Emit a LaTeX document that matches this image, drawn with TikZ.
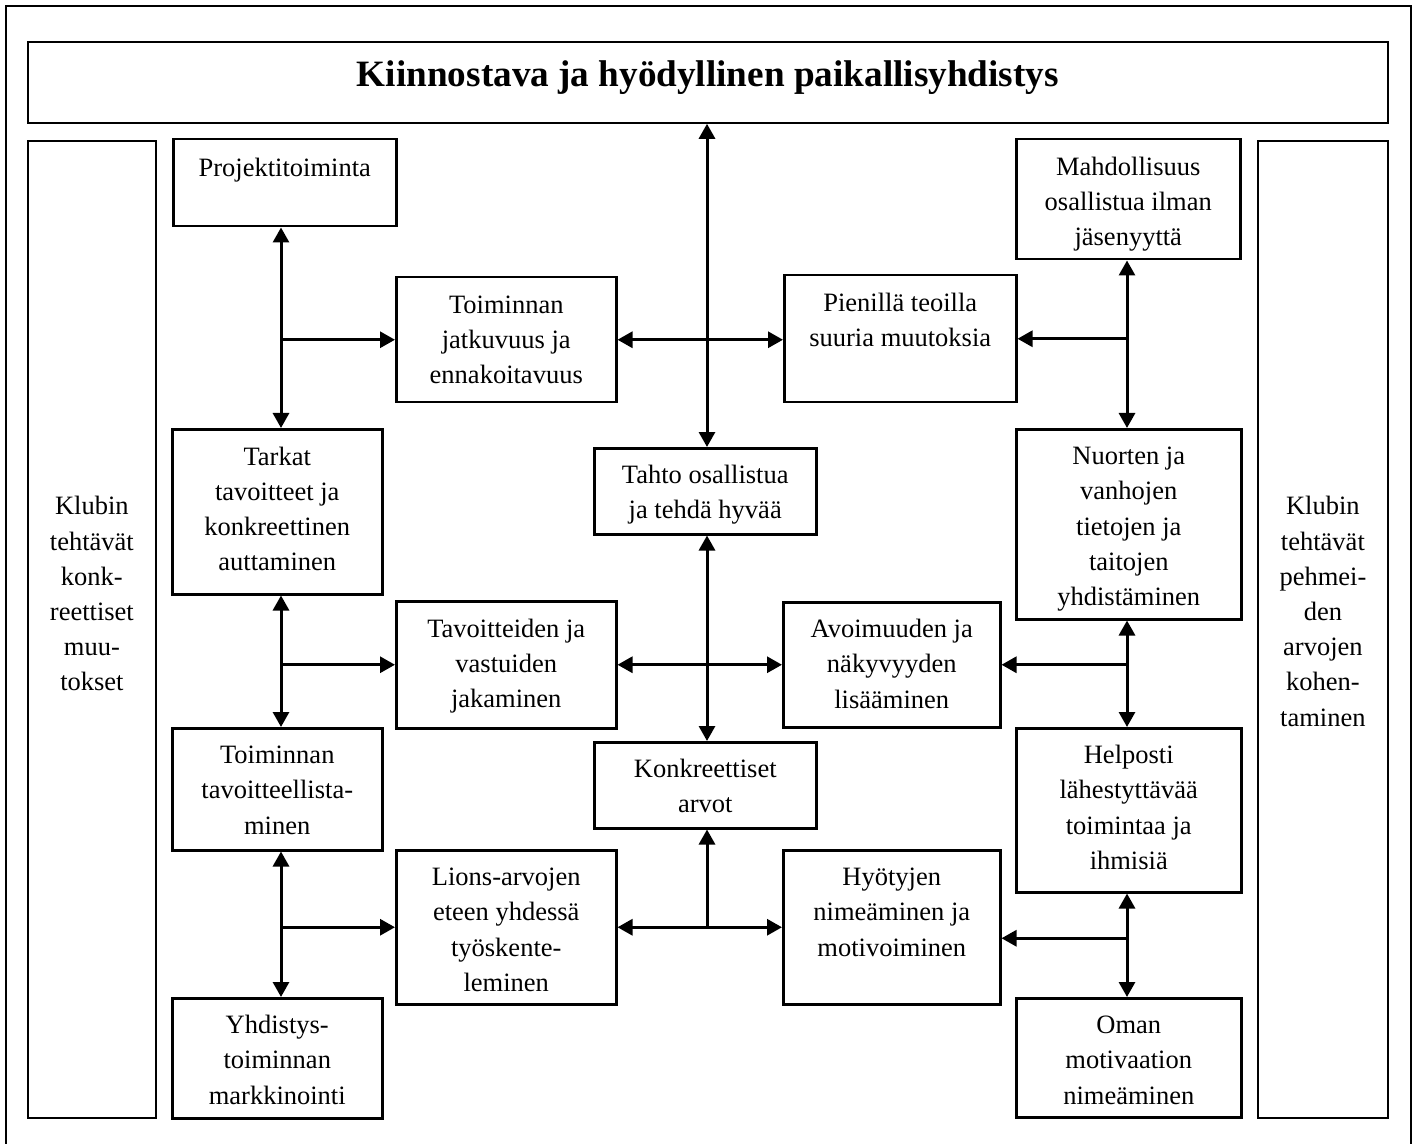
\documentclass[tikz,border=0pt]{standalone}
\usepackage{fontspec}
\setmainfont{Liberation Serif}
\usetikzlibrary{arrows.meta}
\newlength{\px}
\setlength{\px}{0.5pt}
\newcommand{\boxtext}[4][35.5]{\parbox[c][#3\px][t]{#2\px}{\centering\rule{0pt}{#1\px}#4}}
\tikzset{
	block/.style = {draw, line width=1.25pt, inner sep=0pt, anchor=north west,
		font=\fontsize{13.25}{17.6}\selectfont},
	side/.style = {block, line width=0.9pt},
	head/.style = {side, font=\bfseries\fontsize{18.6}{21}\selectfont},
	link/.style = {line width=1.5pt},
	arr/.style = {link, -{Triangle[length=7.5pt, width=8pt]}},
	dbl/.style = {link, {Triangle[length=7.5pt, width=8pt]}-{Triangle[length=7.5pt, width=8pt]}}
}

\begin{document}
\begin{tikzpicture}[x=0.5pt, y=-0.5pt]
	\useasboundingbox (0, 0) rectangle (1418, 1144);
	\draw [line width=1pt] (6, 1144) -- (6, 6) -- (1411, 6) -- (1411, 1144);
	\coordinate (lsp) at (281, 0);
	\coordinate (csp) at (707, 0);
	\coordinate (rsp) at (1127, 0);

	\node [head] (title) at (27, 41) {\boxtext[45]{1360}{81}{Kiinnostava ja hyödyllinen paikallisyhdistys}};
	\node [side] (lside) at (27, 140) {\boxtext[374]{128}{977}{Klubin\\tehtävät\\konk-\\reettiset\\muu-\\tokset}};
	\node [side] (rside) at (1257, 140) {\boxtext[374]{130}{977}{Klubin\\tehtävät\\pehmei-\\den\\arvojen\\kohen-\\taminen}};

	\node [block] (proj) at (172, 138) {\boxtext[37]{223}{87}{Projektitoiminta}};
	\node [block] (tark) at (171, 428) {\boxtext[36]{210}{165}{Tarkat\\tavoitteet ja\\konkreettinen\\auttaminen}};
	\node [block] (tavo) at (171, 727) {\boxtext{210}{122}{Toiminnan\\tavoitteellista-\\minen}};
	\node [block] (yhd) at (171, 997) {\boxtext{210}{120}{Yhdistys-\\toiminnan\\markkinointi}};

	\node [block] (jatk) at (395, 276) {\boxtext[36]{220}{125}{Toiminnan\\jatkuvuus ja\\ennakoitavuus}};
	\node [block] (tav) at (395, 600) {\boxtext[36]{220}{127}{Tavoitteiden ja\\vastuiden\\jakaminen}};
	\node [block] (lions) at (395, 849) {\boxtext{220}{154}{Lions-arvojen\\eteen yhdessä\\työskente-\\leminen}};

	\node [block] (tahto) at (593, 447) {\boxtext{222}{86}{Tahto osallistua\\ja tehdä hyvää}};
	\node [block] (konk) at (593, 741) {\boxtext{222}{86}{Konkreettiset\\arvot}};

	\node [block] (pien) at (783, 274) {\boxtext[36]{232}{127}{Pienillä teoilla\\suuria muutoksia}};
	\node [block] (avo) at (782, 601) {\boxtext{217}{125}{Avoimuuden ja\\näkyvyyden\\lisääminen}};
	\node [block] (hyot) at (782, 849) {\boxtext{217}{154}{Hyötyjen\\nimeäminen ja\\motivoiminen}};

	\node [block] (mahd) at (1015, 138) {\boxtext[36]{224}{120}{Mahdollisuus\\osallistua ilman\\jäsenyyttä}};
	\node [block] (nuor) at (1015, 428) {\boxtext{225}{190}{Nuorten ja\\vanhojen\\tietojen ja\\taitojen\\yhdistäminen}};
	\node [block] (help) at (1015, 727) {\boxtext{225}{164}{Helposti\\lähestyttävää\\toimintaa ja\\ihmisiä}};
	\node [block] (oman) at (1015, 997) {\boxtext{225}{119}{Oman\\motivaation\\nimeäminen}};

	\draw [dbl] (proj.south -| lsp) -- (tark.north -| lsp);
	\draw [dbl] (tark.south -| lsp) -- (tavo.north -| lsp);
	\draw [dbl] (tavo.south -| lsp) -- (yhd.north -| lsp);
	\draw [arr] (jatk.west -| lsp) -- (jatk.west);
	\draw [arr] (tav.west -| lsp) -- (tav.west);
	\draw [arr] (lions.west -| lsp) -- (lions.west);

	\draw [dbl] (title.south -| csp) -- (tahto.north -| csp);
	\draw [dbl] (tahto.south -| csp) -- (konk.north -| csp);
	\draw [dbl] (jatk.east) -- (pien.west |- jatk.east);
	\draw [dbl] (tav.east) -- (avo.west);
	\draw [dbl] (lions.east) -- (hyot.west);
	\draw [arr] (lions.east -| csp) -- (konk.south -| csp);

	\coordinate (hyin) at ([yshift=-5.5pt]hyot.east);
	\draw [dbl] (mahd.south -| rsp) -- (nuor.north -| rsp);
	\draw [dbl] (nuor.south -| rsp) -- (help.north -| rsp);
	\draw [dbl] (help.south -| rsp) -- (oman.north -| rsp);
	\draw [arr] (pien.east -| rsp) -- (pien.east);
	\draw [arr] (avo.east -| rsp) -- (avo.east);
	\draw [arr] (hyin -| rsp) -- (hyin);
\end{tikzpicture}
\end{document}
